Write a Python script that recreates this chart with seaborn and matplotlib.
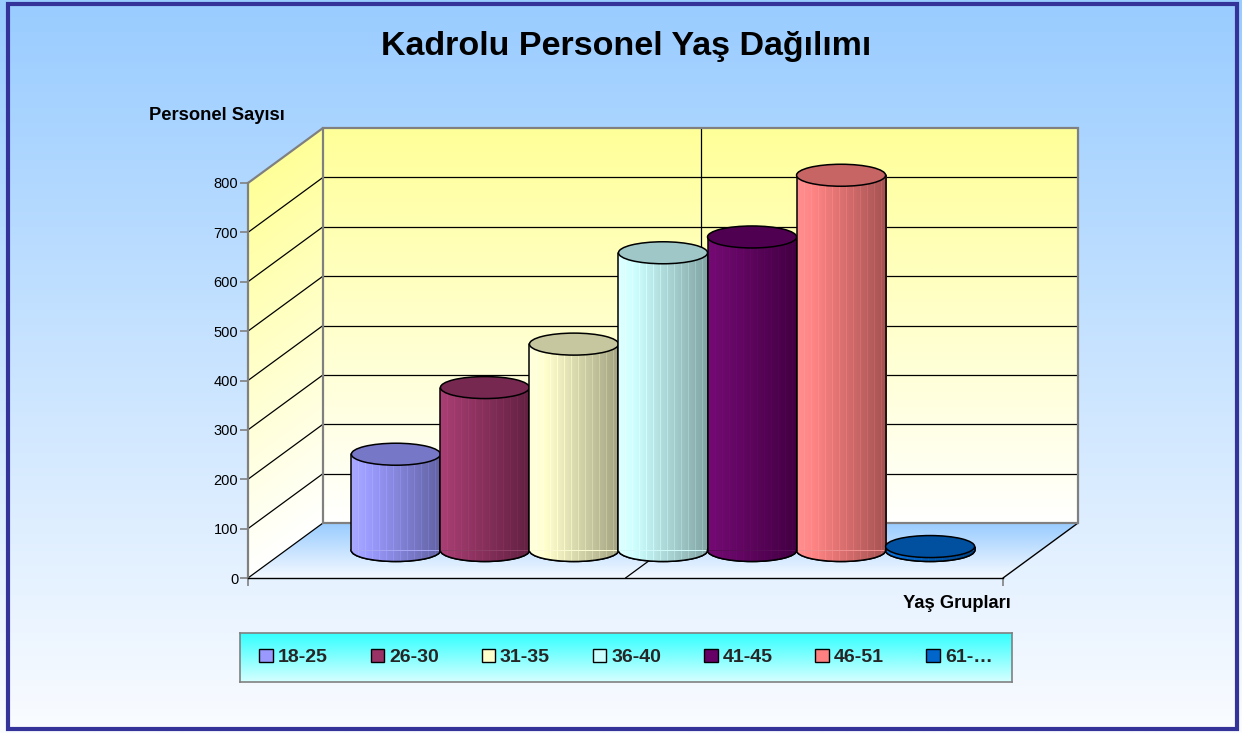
import numpy as np
import pandas as pd
import matplotlib
matplotlib.use("Agg")
import matplotlib.pyplot as plt
import matplotlib.colors as mcolors
import seaborn as sns
from matplotlib.patches import Ellipse, Polygon, Rectangle, Patch
from matplotlib.transforms import Affine2D

# data
age_groups = ["18-25", "26-30", "31-35", "36-40", "41-45", "46-51", "61-…"]
staff_counts = [195, 330, 418, 603, 635, 760, 8]
bar_colors = ["#9999FF", "#993366", "#FFFFCC", "#CCFFFF", "#660066", "#FF8080", "#0066CC"]
y_ticks = [0, 100, 200, 300, 400, 500, 600, 700, 800]

sns.set_theme(style="white")
plt.rcParams["font.family"] = ["Liberation Sans", "DejaVu Sans"]

W, H = 1242, 733
fig = plt.figure(figsize=(W / 100, H / 100), dpi=100)


def vgrad(c_bottom, c_top, n=256):
    a = np.array(mcolors.to_rgb(c_bottom))
    b = np.array(mcolors.to_rgb(c_top))
    t = np.linspace(0, 1, n)[:, None, None]
    return a + (b - a) * t  # row 0 = bottom (use origin="lower")


# page background + frame
bg = fig.add_axes([0, 0, 1, 1], zorder=-10)
bg.imshow(vgrad("#FAFCFF", "#99CCFF"), origin="lower", aspect="auto", extent=[0, 1, 0, 1])
bg.axis("off")
fig.patches.append(Rectangle((8 / W, 4 / H), (1237 - 8) / W, (729 - 4) / H,
                             transform=fig.transFigure, fill=False,
                             ec="#333399", lw=3, zorder=5))

# front plane of the 3d box
ax = fig.add_axes([248 / W, (H - 578) / H, 755 / W, 395 / H])
ax.patch.set_alpha(0)

df = pd.DataFrame({"group": age_groups, "count": staff_counts})
sns.barplot(data=df, x="group", y="count", hue="group", palette=bar_colors,
            width=1.0, linewidth=0, legend=False, ax=ax, zorder=3)
bars = sorted(ax.patches, key=lambda p: p.get_x())

xmin, xmax = -1.24, 7.24
ax.set_xlim(xmin, xmax)
ax.set_ylim(0, 800)
ax.set_autoscale_on(False)

sx = 755 / (xmax - xmin)     # px per category
sy = 395 / 800               # px per person
ox, oy = 75 / sx, 55 / sy    # depth offset in data units
ell_h = 22 / sy

back = Affine2D().translate(ox, oy) + ax.transData
mid = Affine2D().translate(ox / 2, oy / 2) + ax.transData
floor_tr = Affine2D(np.array([[1, ox, 0], [0, oy, 0], [0, 0, 1]])) + ax.transData   # (x, depth)
side_tr = Affine2D(np.array([[ox, 0, xmin], [oy, 1, 0], [0, 0, 1]])) + ax.transData  # (depth, value)


def clipped_image(img, extent, tr, clip, z):
    im = ax.imshow(img, origin="lower", aspect="auto", extent=extent, transform=tr, zorder=z)
    im.set_clip_box(fig.bbox)
    im.set_clip_path(clip)
    return im


def wall(img, extent, tr):
    x0, x1, y0, y1 = extent
    clip = Polygon([(x0, y0), (x0, y1), (x1, y1), (x1, y0)], closed=True, transform=tr)
    clipped_image(img, extent, tr, clip, 0)


# walls and floor
wall(vgrad("#FFFFFF", "#FFFF99"), [xmin, xmax, 0, 800], back)
wall(vgrad("#FFFFFF", "#FFFF99"), [0, 1, 0, 800], side_tr)
wall(vgrad("#F4F9FF", "#99CCFF"), [xmin, xmax, 0, 1], floor_tr)

for v in y_ticks[1:-1]:
    ax.plot([xmin, xmax], [v, v], color="black", lw=0.9, transform=back, clip_on=False, zorder=1)
for v in y_ticks[:-1]:
    ax.plot([0, 1], [v, v], color="black", lw=0.9, transform=side_tr, clip_on=False, zorder=1)
ax.plot([3, 3], [0, 800], color="black", lw=0.9, transform=back, clip_on=False, zorder=1)
ax.plot([3, 3], [0, 1], color="black", lw=0.9, transform=floor_tr, clip_on=False, zorder=1)
ax.plot([xmax, xmax], [0, 1], color="black", lw=1.0, transform=floor_tr, clip_on=False, zorder=1)
ax.add_patch(Polygon([(xmin, 0), (xmin, 800), (xmax, 800), (xmax, 0)], closed=True,
                     fill=False, ec="#808080", lw=1.6, transform=back, clip_on=False, zorder=1.5))
ax.plot([0, 1], [800, 800], color="#808080", lw=1.6, transform=side_tr, clip_on=False, zorder=1.5)

# cylinders
for i, (bar, col) in enumerate(zip(bars, bar_colors)):
    z = 3 + i * 0.1
    x0, bw, h = bar.get_x(), bar.get_width(), bar.get_height()
    cx = x0 + bw / 2
    base = np.array(mcolors.to_rgb(col))
    t = np.linspace(0, 1, 90)
    shade = 1.04 - 0.40 * t
    shade[::7] += 0.07
    row = np.clip(base[None, :] * shade[:, None] + 0.04 * (1 - t)[:, None], 0, 1)
    tex = row[None, :, :]

    bot = Ellipse((cx, 0), bw, ell_h, transform=mid, fc=col, ec="black", lw=1.1,
                  clip_on=False, zorder=z)
    ax.add_patch(bot)
    clipped_image(tex, [x0, x0 + bw, -ell_h / 2, ell_h / 2], mid, bot, z + 0.01)
    ax.add_patch(Ellipse((cx, 0), bw, ell_h, transform=mid, fill=False, ec="black", lw=1.1,
                         clip_on=False, zorder=z + 0.02))

    bar.set_transform(mid)
    bar.set_clip_on(False)
    bar.set_zorder(z + 0.03)
    clipped_image(tex, [x0, x0 + bw, 0, h], mid, bar, z + 0.04)
    ax.plot([x0, x0], [0, h], color="black", lw=1.1, transform=mid, clip_on=False, zorder=z + 0.05)
    ax.plot([x0 + bw, x0 + bw], [0, h], color="black", lw=1.1, transform=mid, clip_on=False, zorder=z + 0.05)
    ax.add_patch(Ellipse((cx, h), bw, ell_h, transform=mid, fc=base * 0.78, ec="black",
                         lw=1.1, clip_on=False, zorder=z + 0.06))

# axes
for s in ["top", "right"]:
    ax.spines[s].set_visible(False)
ax.spines["left"].set_color("#808080")
ax.spines["left"].set_linewidth(1.6)
ax.spines["bottom"].set_color("black")
ax.spines["bottom"].set_linewidth(1.0)
ax.spines["left"].set_zorder(6)
ax.spines["bottom"].set_zorder(6)
ax.set_yticks(y_ticks)
ax.set_xticks([xmin, xmax])
ax.set_xticklabels([])
ax.tick_params(axis="y", direction="out", length=6, width=1.2, color="#808080",
               labelsize=10.5, labelcolor="black", pad=1, left=True)
ax.tick_params(axis="x", direction="out", length=6, width=1.2, color="#808080", bottom=True)
ax.set_xlabel("")
ax.set_ylabel("")

fig.text(626 / W, 1 - 46 / H, "Kadrolu Personel Yaş Dağılımı", ha="center", va="center",
         fontsize=24.5, fontweight="bold", color="black")
fig.text(149 / W, 1 - 116 / H, "Personel Sayısı", ha="left", va="center",
         fontsize=13.2, fontweight="bold", color="black")
fig.text(1011 / W, 1 - 603 / H, "Yaş Grupları", ha="right", va="center",
         fontsize=13.2, fontweight="bold", color="black")

# legend box
lg_ax = fig.add_axes([240 / W, (H - 682) / H, (1012 - 240) / W, (682 - 633) / H])
lg_ax.imshow(vgrad("#D6FFFF", "#33FFFF"), origin="lower", aspect="auto", extent=[0, 1, 0, 1])
lg_ax.set_xticks([])
lg_ax.set_yticks([])
for s in lg_ax.spines.values():
    s.set_color("#808080")
    s.set_linewidth(1.2)
handles = [Patch(facecolor=c, edgecolor="black", lw=1.0) for c in bar_colors]
lg_ax.legend(handles, age_groups, loc="center", ncol=7, frameon=False,
             handlelength=0.7, handleheight=0.7, handletextpad=0.25,
             columnspacing=2.2, prop={"weight": "bold", "size": 14})

fig.savefig("out.png", dpi=100)
